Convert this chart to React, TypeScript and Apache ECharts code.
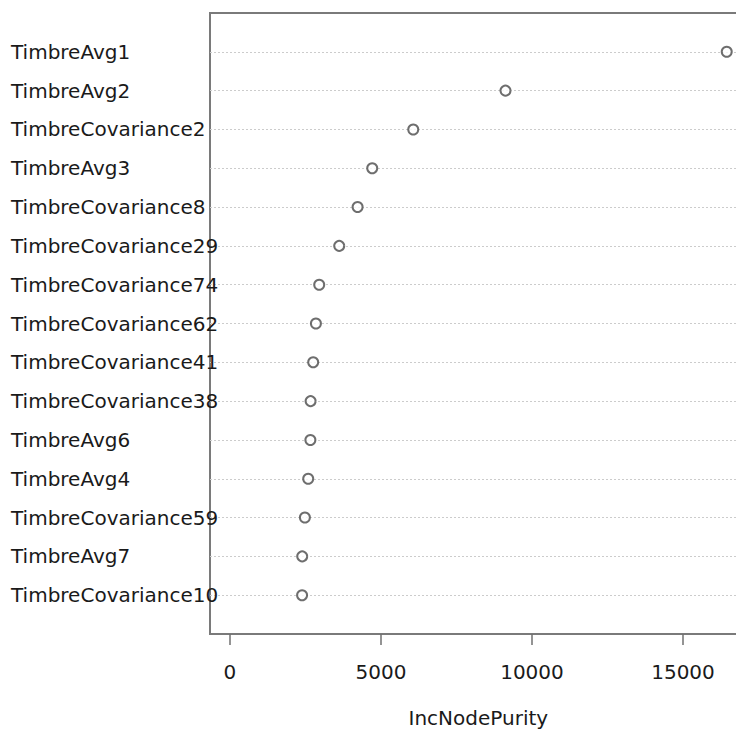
import React, { useEffect, useRef } from "react";
import * as echarts from "echarts";

const categories = [
  "TimbreAvg1",
  "TimbreAvg2",
  "TimbreCovariance2",
  "TimbreAvg3",
  "TimbreCovariance8",
  "TimbreCovariance29",
  "TimbreCovariance74",
  "TimbreCovariance62",
  "TimbreCovariance41",
  "TimbreCovariance38",
  "TimbreAvg6",
  "TimbreAvg4",
  "TimbreCovariance59",
  "TimbreAvg7",
  "TimbreCovariance10",
];

const incNodePurity = [
  16447, 9123, 6070, 4712, 4228, 3619, 2957, 2848, 2758, 2672, 2665, 2593, 2483,
  2394, 2390,
];

const xTicks = [0, 5000, 10000, 15000];

export default function App() {
  const ref = useRef<HTMLDivElement>(null);

  useEffect(() => {
    if (!ref.current) return;
    const chart = echarts.init(ref.current, null, { renderer: "svg" });
    const n = categories.length;
    const maxV = Math.max(...incNodePurity);
    const xMin = -0.04 * maxV;
    const xMax = 1.04 * maxV;
    const rows = categories.map((_, i) => n - i);
    const font = "DejaVu Sans";

    chart.setOption({
      animation: false,
      backgroundColor: "#ffffff",
      grid: {
        left: 210,
        top: 13,
        width: 536.6,
        height: 625.5,
        show: true,
        borderColor: "#7a7a7a",
        borderWidth: 2,
        backgroundColor: "#ffffff",
      },
      xAxis: {
        type: "value",
        min: xMin,
        max: xMax,
        axisLine: { show: false },
        splitLine: { show: false },
        axisTick: {
          show: true,
          customValues: xTicks,
          length: 11,
          lineStyle: { color: "#707070", width: 1.5 },
        },
        axisLabel: {
          customValues: xTicks,
          formatter: (v: number) => String(v),
          margin: 28,
          fontSize: 20,
          fontFamily: font,
          color: "#1a1a1a",
        },
        name: "IncNodePurity",
        nameLocation: "middle",
        nameGap: 74,
        nameTextStyle: { fontSize: 20, fontFamily: font, color: "#1a1a1a" },
      },
      yAxis: {
        type: "value",
        min: 0,
        max: n + 1,
        axisLine: { show: false },
        axisTick: { show: false, customValues: rows },
        axisLabel: {
          customValues: rows,
          align: "left",
          margin: 199,
          fontSize: 20,
          fontFamily: font,
          color: "#1a1a1a",
          formatter: (v: number) => categories[n - v] ?? "",
        },
        splitLine: {
          show: true,
          lineStyle: { color: "#cccccc", type: [2, 2], width: 1.2 },
        },
      },
      series: [
        {
          type: "scatter",
          data: incNodePurity.map((v, i) => [v, n - i]),
          symbol: "circle",
          symbolSize: 10,
          itemStyle: {
            color: "#ffffff",
            borderColor: "#4a4a4a",
            borderWidth: 2,
          },
          z: 5,
        },
      ],
    });

    return () => chart.dispose();
  }, []);

  return (
    <div
      style={{
        position: "fixed",
        left: 0,
        top: 0,
        width: 736,
        height: 733,
        overflow: "hidden",
        background: "#fff",
      }}
    >
      <div ref={ref} style={{ width: 780, height: 733 }} />
    </div>
  );
}
